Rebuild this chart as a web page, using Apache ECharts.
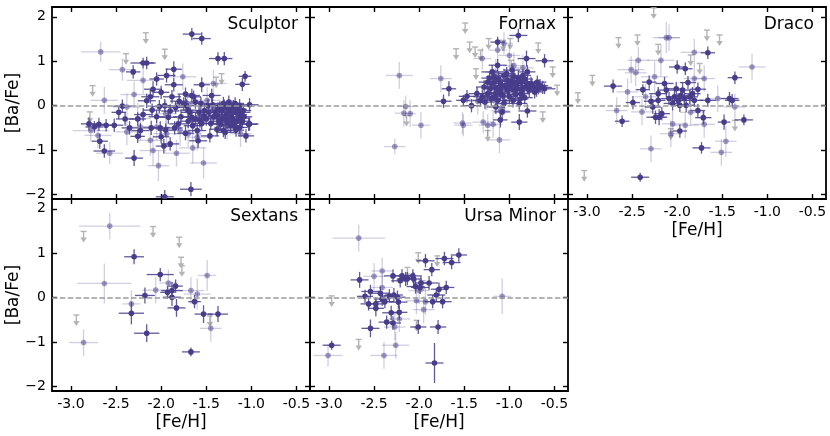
<!DOCTYPE html>
<html>
<head>
<meta charset="utf-8">
<script src="https://cdn.jsdelivr.net/npm/echarts@6/dist/echarts.min.js"></script>
<style>html,body{margin:0;padding:0;background:#fff}#chart{width:830px;height:436px}</style>
</head>
<body>
<div id="chart"></div>
<script>
// tick marks / labels
var FEH_TICKS = [-3.0, -2.5, -2.0, -1.5, -1.0, -0.5];
var BAFE_TICKS = [-2, -1, 0, 1, 2];
var FEH_RANGE = [-3.21, -0.35];
var BAFE_RANGE = [-2.1, 2.22];

// [Fe/H, [Ba/Fe], err Fe/H, err Ba/Fe]
var sculptorDark = [
  [-1.66,1.61,0.10,0.14],[-1.55,1.51,0.10,0.14],[-1.37,1.06,0.10,0.14],[-1.30,1.06,0.09,0.15],
  [-1.07,0.66,0.07,0.12],[-1.10,0.48,0.08,0.15],[-2.16,0.96,0.08,0.14],[-2.20,0.96,0.14,0.12],
  [-2.31,0.76,0.08,0.15],[-1.86,0.82,0.09,0.18],[-1.94,0.68,0.10,0.16],[-2.09,0.37,0.10,0.18],
  [-2.00,0.30,0.09,0.15],[-2.05,0.60,0.08,0.15],[-1.86,0.47,0.10,0.15],[-1.55,0.47,0.09,0.17],
  [-1.66,0.23,0.09,0.15],[-1.44,0.23,0.10,0.15],[-1.73,0.26,0.09,0.15],[-1.64,0.20,0.08,0.14],
  [-2.16,0.11,0.10,0.16],[-2.43,-0.01,0.10,0.15],[-2.47,-0.15,0.08,0.15],[-2.80,-0.41,0.09,0.15],
  [-2.74,-0.48,0.10,0.13],[-2.69,-0.42,0.10,0.15],[-2.61,-0.44,0.09,0.14],[-2.52,-0.44,0.10,0.15],
  [-2.68,-0.80,0.09,0.17],[-2.63,-1.02,0.12,0.15],[-2.30,-1.18,0.10,0.18],[-1.97,-0.91,0.09,0.16],
  [-1.90,-0.86,0.10,0.15],[-1.67,-1.88,0.12,0.16],[-1.96,-2.05,0.10,0.15],[-1.06,-0.68,0.09,0.15],
  [-1.03,-0.42,0.10,0.15],[-2.26,-0.30,0.09,0.15],[-2.23,-0.56,0.10,0.17],[-2.26,-0.69,0.08,0.15],
  [-2.11,-0.50,0.09,0.16],[-2.01,-0.50,0.10,0.15],[-2.00,-0.70,0.09,0.15],[-1.92,-0.26,0.10,0.15],
  [-1.84,-0.04,0.09,0.14],[-1.81,-0.41,0.10,0.15],[-1.73,-0.62,0.09,0.16],[-1.59,-0.79,0.10,0.16],
  [-1.57,-0.34,0.09,0.15],[-1.52,-0.11,0.10,0.15],[-1.46,-0.68,0.10,0.15],[-1.38,-0.53,0.09,0.16],
  [-1.31,-0.56,0.10,0.15],[-1.23,-0.45,0.09,0.15],[-1.18,-0.49,0.10,0.14],[-1.13,-0.49,0.09,0.15],
  [-1.02,-0.41,0.10,0.15],[-1.02,0.02,0.10,0.15],[-1.09,-0.11,0.09,0.15],[-2.02,-0.02,0.10,0.15],
  [-1.96,0.00,0.09,0.15],[-1.75,0.04,0.10,0.15],[-1.70,-0.10,0.09,0.15],[-1.62,0.08,0.10,0.15],
  [-1.53,-0.23,0.09,0.15],[-1.66,-0.26,0.10,0.15],[-1.78,-0.25,0.09,0.15],[-1.60,-0.56,0.10,0.15],
  [-1.35,-0.05,0.10,0.15],[-1.30,0.00,0.09,0.14],[-1.25,-0.10,0.10,0.15],[-1.20,-0.02,0.09,0.15],
  [-1.15,-0.08,0.10,0.15],[-1.28,-0.20,0.09,0.15],[-1.22,-0.25,0.10,0.15],[-1.17,-0.15,0.09,0.14],
  [-1.32,-0.30,0.10,0.15],[-1.40,-0.15,0.09,0.15],[-1.36,-0.35,0.10,0.15],[-1.12,-0.28,0.09,0.15],
  [-1.18,0.05,0.10,0.14],[-1.25,0.08,0.09,0.15],[-1.43,0.02,0.10,0.15],[-1.27,-0.38,0.09,0.15],
  [-1.20,-0.33,0.10,0.15],[-1.14,-0.20,0.09,0.15],[-1.33,-0.12,0.10,0.15],[-1.23,-0.02,0.09,0.15],
  [-1.38,-0.22,0.10,0.15],[-1.10,-0.35,0.09,0.15],[-1.45,-0.40,0.10,0.15],[-1.50,-0.30,0.09,0.15],
  [-1.48,0.00,0.10,0.15],[-2.10,-0.10,0.10,0.15],[-2.05,-0.25,0.09,0.15],[-1.90,-0.12,0.10,0.15],
  [-1.85,-0.50,0.09,0.15],[-1.80,0.10,0.10,0.15],[-1.70,-0.35,0.09,0.15],[-1.65,-0.45,0.10,0.15],
  [-1.58,-0.15,0.09,0.15],[-2.20,-0.20,0.10,0.15],[-2.35,-0.50,0.09,0.15],[-2.40,-0.30,0.10,0.15],
  [-1.95,-0.55,0.09,0.15],[-1.88,0.20,0.10,0.15],[-1.72,0.00,0.09,0.15],[-2.12,0.20,0.10,0.15],
  [-1.26,-0.05,0.09,0.15],[-1.21,-0.15,0.10,0.14],[-1.16,-0.35,0.09,0.15],[-1.29,-0.28,0.10,0.15],
  [-1.34,-0.42,0.09,0.15],[-1.24,-0.30,0.10,0.15],[-1.19,-0.40,0.09,0.15],[-1.11,-0.15,0.10,0.15],
  [-1.08,-0.25,0.09,0.14],[-1.31,0.05,0.10,0.15],[-1.37,-0.08,0.09,0.15],[-1.42,-0.25,0.10,0.15],
  [-1.47,-0.15,0.09,0.15],[-1.55,-0.40,0.10,0.15],[-1.62,-0.30,0.09,0.15],[-1.68,-0.15,0.10,0.15],
  [-1.56,0.05,0.09,0.15],[-1.13,0.00,0.10,0.15],[-1.17,-0.55,0.09,0.15],[-1.29,-0.60,0.10,0.15]
];
var sculptorFaint = [
  [-2.67,1.21,0.22,0.23],[-2.43,0.81,0.15,0.25],[-2.20,0.57,0.18,0.30],[-2.63,0.12,0.15,0.30],
  [-1.76,0.65,0.15,0.30],[-1.53,-1.29,0.15,0.35],[-2.03,-1.35,0.12,0.35],[-1.83,-1.07,0.15,0.30],
  [-2.09,-1.01,0.15,0.35],[-2.78,-0.56,0.20,0.25],[-2.70,-0.67,0.15,0.30],[-2.57,-1.07,0.15,0.25],
  [-2.23,-0.48,0.15,0.30],[-2.26,-0.29,0.15,0.35],[-2.38,-0.59,0.12,0.30],[-1.70,-0.63,0.15,0.30],
  [-1.60,-0.71,0.12,0.30],[-2.12,-0.78,0.15,0.35],[-1.94,-0.63,0.15,0.30],[-1.79,-0.56,0.12,0.35],
  [-1.42,0.50,0.15,0.30],[-1.71,-0.11,0.15,0.30],[-1.95,-0.18,0.12,0.30],[-2.38,-0.03,0.15,0.30],
  [-1.49,0.12,0.15,0.30],[-1.27,-0.48,0.15,0.30],[-1.12,-0.63,0.12,0.30],[-1.57,-0.33,0.15,0.35],
  [-2.05,-0.48,0.15,0.30],[-1.36,-0.29,0.12,0.30],[-1.65,-0.95,0.15,0.35],[-2.30,0.25,0.15,0.30]
];
var sculptorLim = [
  [-2.17,1.64],[-2.39,1.17],[-1.96,1.27],[-2.76,0.45],[-2.79,-0.14],[-1.33,0.72],[-1.39,0.64]
];

var fornaxDark = [
  [-0.90,1.58,0.10,0.15],[-1.13,1.43,0.08,0.12],[-0.81,1.06,0.10,0.18],[-0.61,1.01,0.10,0.15],
  [-1.67,0.38,0.08,0.17],[-1.73,0.10,0.09,0.15],[-1.51,0.12,0.08,0.12],[-1.47,0.21,0.09,0.14],
  [-1.42,0.00,0.10,0.15],[-1.32,0.12,0.09,0.14],[-1.13,0.91,0.10,0.14],[-1.19,0.76,0.12,0.15],
  [-0.89,-0.37,0.09,0.18],[-0.80,-0.12,0.10,0.15],[-1.10,-0.32,0.08,0.17],[-0.89,0.05,0.09,0.14],
  [-0.63,0.41,0.10,0.15],[-0.61,0.38,0.12,0.12],[-0.72,0.42,0.10,0.14],[-0.80,0.76,0.09,0.15],
  [-1.24,0.53,0.10,0.15],[-1.17,0.65,0.09,0.16],[-1.10,0.50,0.10,0.15],[-1.02,0.57,0.11,0.15],
  [-0.95,0.65,0.09,0.16],[-0.87,0.53,0.10,0.15],[-0.80,0.42,0.09,0.15],[-1.02,0.35,0.10,0.15],
  [-1.10,0.27,0.10,0.16],[-1.17,0.20,0.09,0.15],[-1.24,0.27,0.10,0.15],[-0.95,0.35,0.09,0.15],
  [-0.87,0.27,0.10,0.16],[-0.72,0.31,0.09,0.15],[-1.13,0.12,0.10,0.15],[-1.06,0.05,0.09,0.16],
  [-1.21,0.38,0.10,0.15],[-1.28,0.42,0.09,0.15],[-0.98,0.46,0.10,0.15],[-0.91,0.38,0.09,0.16],
  [-1.06,0.68,0.10,0.15],[-1.19,0.50,0.09,0.15],[-1.10,0.38,0.10,0.16],[-0.85,0.68,0.09,0.15],
  [-0.76,0.50,0.10,0.15],[-1.00,0.20,0.09,0.15],[-1.15,-0.03,0.10,0.16],[-1.08,-0.14,0.09,0.15],
  [-1.30,0.20,0.10,0.15],[-1.36,0.27,0.09,0.15],[-0.69,0.53,0.10,0.15],
  [-1.05,0.45,0.10,0.15],[-0.98,0.55,0.09,0.16],[-0.92,0.45,0.10,0.15],[-0.85,0.40,0.09,0.15],
  [-0.78,0.35,0.10,0.16],[-0.75,0.45,0.09,0.15],[-0.68,0.40,0.10,0.15],[-0.66,0.45,0.09,0.15],
  [-0.93,0.25,0.10,0.16],[-0.83,0.18,0.09,0.15],[-1.15,0.40,0.10,0.15],[-1.12,0.60,0.09,0.16],
  [-1.03,0.72,0.10,0.15],[-0.97,0.80,0.09,0.15],[-0.90,0.62,0.10,0.16],[-0.83,0.60,0.09,0.15],
  [-1.20,0.15,0.10,0.15],[-1.27,0.08,0.09,0.16],[-1.14,0.30,0.10,0.15],[-1.07,0.22,0.09,0.15],
  [-0.96,0.12,0.10,0.16],[-0.88,0.15,0.09,0.15],[-1.01,0.40,0.10,0.15],[-0.94,0.52,0.09,0.16],
  [-0.80,0.50,0.10,0.15],[-1.08,0.45,0.09,0.15],[-1.16,0.55,0.10,0.16],[-1.22,0.62,0.09,0.15],
  [-0.70,0.35,0.10,0.15],[-0.86,0.35,0.09,0.16]
];
var fornaxFaint = [
  [-2.22,0.68,0.15,0.30],[-2.27,-0.92,0.12,0.18],[-2.15,-0.02,0.08,0.25],[-2.17,-0.17,0.10,0.30],
  [-2.10,-0.18,0.06,0.30],[-1.98,-0.44,0.10,0.30],[-1.76,0.61,0.12,0.30],[-1.52,-0.39,0.10,0.25],
  [-1.51,-0.44,0.10,0.25],[-1.29,-0.37,0.12,0.25],[-1.24,-0.44,0.10,0.25],[-1.18,-0.42,0.10,0.30],
  [-1.11,-0.77,0.12,0.30],[-1.10,-0.11,0.10,0.30],[-1.00,1.13,0.12,0.25],[-1.30,1.06,0.10,0.25],
  [-1.06,1.40,0.10,0.25],[-1.13,1.25,0.10,0.25],[-1.25,0.20,0.12,0.30],[-1.05,0.10,0.12,0.30],
  [-1.20,0.45,0.12,0.30],[-1.00,0.30,0.12,0.30],[-0.90,0.55,0.12,0.30],[-1.15,0.75,0.12,0.30],
  [-0.85,0.85,0.12,0.30],[-1.35,0.10,0.12,0.30],[-0.95,0.90,0.12,0.30]
];
var fornaxLim = [
  [-1.49,1.86],[-1.44,1.43],[-1.38,1.32],[-1.32,1.25],[-1.23,1.51],[-1.07,1.47],[-0.99,1.51],
  [-1.59,1.28],[-1.37,0.83],[-0.68,1.41],[-0.52,0.87],[-0.47,0.46],[-0.63,-0.14],[-1.24,-0.56],
  [-2.14,-0.22],[-0.98,1.02]
];

var dracoDark = [
  [-2.71,0.44,0.10,0.15],[-2.61,-0.35,0.08,0.13],[-2.49,0.07,0.08,0.15],[-2.41,-1.61,0.10,0.10],
  [-2.38,0.36,0.08,0.12],[-2.31,0.53,0.08,0.15],[-2.29,0.10,0.08,0.15],[-2.27,-0.03,0.09,0.15],
  [-2.21,0.12,0.08,0.14],[-2.24,-0.26,0.10,0.15],[-2.20,-0.26,0.09,0.18],[-2.17,-0.18,0.09,0.15],
  [-2.21,0.27,0.10,0.15],[-2.00,0.87,0.09,0.15],[-1.91,0.83,0.08,0.14],[-1.97,-0.57,0.08,0.15],
  [-1.88,0.52,0.09,0.15],[-1.77,0.37,0.09,0.15],[-1.77,-0.11,0.08,0.15],[-1.71,-0.27,0.09,0.15],
  [-1.73,-0.95,0.10,0.13],[-1.66,1.19,0.08,0.14],[-1.48,-0.37,0.07,0.17],[-1.42,0.16,0.10,0.15],
  [-1.39,0.12,0.08,0.14],[-1.36,0.63,0.08,0.14],[-1.26,-0.32,0.10,0.12],[-2.03,0.20,0.09,0.15],
  [-1.99,0.12,0.10,0.16],[-1.96,0.23,0.09,0.15],[-1.92,0.16,0.10,0.15],[-1.94,0.35,0.09,0.16],
  [-2.01,0.38,0.10,0.15],[-2.09,0.16,0.09,0.15],[-2.05,0.05,0.10,0.16],[-1.97,0.01,0.09,0.15],
  [-1.90,0.01,0.10,0.15],[-1.86,0.20,0.09,0.16],[-1.81,0.12,0.10,0.15],[-1.83,0.27,0.09,0.15],
  [-2.12,0.35,0.10,0.16],[-1.66,0.12,0.09,0.15],[-2.14,0.50,0.10,0.15]
];
var dracoFaint = [
  [-2.12,1.53,0.15,0.35],[-2.09,1.53,0.12,0.30],[-2.43,1.02,0.12,0.30],[-2.51,0.81,0.15,0.30],
  [-2.46,0.74,0.12,0.30],[-2.55,0.31,0.12,0.30],[-2.67,-0.11,0.12,0.30],[-2.39,-0.14,0.12,0.30],
  [-2.29,-0.97,0.12,0.30],[-2.05,-0.41,0.12,0.30],[-1.91,-0.44,0.15,0.30],[-2.07,-0.63,0.12,0.30],
  [-1.81,1.20,0.15,0.30],[-1.70,0.61,0.12,0.30],[-1.81,0.61,0.12,0.30],[-1.51,-1.05,0.12,0.30],
  [-1.46,-0.80,0.12,0.35],[-1.36,-0.03,0.12,0.30],[-1.17,0.87,0.15,0.30],[-1.70,-0.42,0.12,0.30],
  [-1.55,0.16,0.12,0.30],[-2.18,1.02,0.15,0.35],[-2.35,0.20,0.12,0.30],[-2.25,0.65,0.15,0.35],
  [-1.85,-0.15,0.12,0.30]
];
var dracoLim = [
  [-3.10,0.29],[-2.94,0.68],[-2.65,1.53],[-2.44,1.59],[-2.21,1.38],[-2.26,2.20],[-1.67,1.70],
  [-1.53,1.59],[-1.85,1.14],[-1.75,0.95],[-2.07,-0.52],[-1.36,-0.33],[-3.03,-1.46]
];

var sextansDark = [
  [-2.30,0.92,0.11,0.17],[-2.01,0.52,0.15,0.15],[-2.18,0.05,0.11,0.18],[-2.33,-0.35,0.14,0.25],
  [-2.16,-0.80,0.14,0.20],[-1.93,0.12,0.08,0.15],[-1.88,0.16,0.12,0.20],[-1.88,0.01,0.10,0.20],
  [-1.84,0.26,0.08,0.15],[-1.83,-0.23,0.10,0.20],[-1.63,-0.09,0.07,0.15],[-1.67,-1.22,0.10,0.10],
  [-1.53,-0.37,0.10,0.20],[-1.37,-0.37,0.11,0.18]
];
var sextansFaint = [
  [-2.57,1.61,0.34,0.30],[-2.63,0.32,0.30,0.45],[-2.86,-1.01,0.16,0.30],[-2.33,-0.14,0.10,0.30],
  [-2.06,0.17,0.15,0.30],[-1.92,0.33,0.10,0.30],[-1.67,0.16,0.15,0.30],[-1.60,0.08,0.15,0.35],
  [-1.49,0.50,0.10,0.35],[-1.45,-0.69,0.12,0.30]
];
var sextansLim = [
  [-2.86,1.49],[-2.09,1.60],[-1.80,1.36],[-1.78,0.91],[-1.77,0.72],[-2.94,-0.39],[-1.46,-0.41]
];

var ursaMinorDark = [
  [-2.97,-1.07,0.10,0.10],[-2.66,0.40,0.10,0.18],[-2.54,0.14,0.10,0.15],[-2.60,0.03,0.09,0.15],
  [-2.54,-0.69,0.10,0.20],[-2.56,-0.14,0.09,0.15],[-2.48,-0.14,0.10,0.15],[-2.48,-0.24,0.09,0.18],
  [-2.43,0.10,0.10,0.15],[-2.41,-0.03,0.09,0.15],[-2.38,-0.09,0.10,0.15],[-2.36,-0.55,0.09,0.15],
  [-2.31,-0.34,0.10,0.16],[-2.29,-0.57,0.09,0.15],[-2.29,0.49,0.10,0.15],[-2.33,0.04,0.09,0.15],
  [-2.28,0.06,0.10,0.16],[-2.24,0.01,0.09,0.15],[-2.23,-0.10,0.10,0.15],[-2.22,-0.33,0.09,0.16],
  [-2.21,0.38,0.10,0.15],[-2.19,0.49,0.09,0.15],[-2.15,0.42,0.10,0.16],[-2.13,0.43,0.09,0.15],
  [-2.07,0.49,0.10,0.15],[-2.06,0.42,0.09,0.15],[-2.04,0.25,0.10,0.16],[-1.98,0.33,0.09,0.15],
  [-1.99,0.23,0.10,0.15],[-2.01,-0.66,0.09,0.16],[-1.93,0.83,0.10,0.15],[-1.86,0.63,0.09,0.15],
  [-1.89,0.33,0.10,0.16],[-1.85,-0.09,0.09,0.15],[-1.81,0.06,0.10,0.15],[-1.79,-0.66,0.09,0.16],
  [-1.74,-0.09,0.10,0.15],[-1.83,-1.47,0.10,0.45],[-1.78,0.19,0.09,0.15],[-1.72,0.88,0.10,0.15],
  [-1.70,0.23,0.09,0.15],[-1.64,0.79,0.10,0.15],[-1.56,0.96,0.09,0.15]
];
var ursaMinorFaint = [
  [-2.67,1.34,0.29,0.30],[-3.01,-1.30,0.16,0.25],[-2.26,-1.07,0.15,0.30],[-2.39,-1.30,0.15,0.30],
  [-2.41,0.60,0.12,0.30],[-2.50,0.48,0.12,0.30],[-2.41,0.23,0.12,0.30],[-1.08,0.03,0.10,0.40],
  [-1.95,-0.27,0.12,0.30],[-2.27,-0.66,0.12,0.30],[-2.22,-0.48,0.12,0.30],[-2.03,-0.07,0.12,0.30],
  [-2.00,0.16,0.12,0.30],[-1.93,-0.09,0.12,0.30]
];
var ursaMinorLim = [
  [-2.97,0.04],[-2.67,-0.94],[-2.01,1.01],[-1.80,0.94],[-2.03,-0.51],[-2.13,0.68],[-1.96,0.38]
];

var DARK = '#483d8b';
var LIMIT_COLOR = '#b4b4b4';
var LIMIT_LEN = 0.25;
var FONT = 'DejaVu Sans';

var panels = [
  {name: 'Sculptor',   dark: sculptorDark,  faint: sculptorFaint,  lim: sculptorLim,  left: 52,  top: 7,   xLab: false, yLab: true},
  {name: 'Fornax',     dark: fornaxDark,    faint: fornaxFaint,    lim: fornaxLim,    left: 310, top: 7,   xLab: false, yLab: false},
  {name: 'Draco',      dark: dracoDark,     faint: dracoFaint,     lim: dracoLim,     left: 568, top: 7,   xLab: true,  yLab: false},
  {name: 'Sextans',    dark: sextansDark,   faint: sextansFaint,   lim: sextansLim,   left: 52,  top: 199, xLab: true,  yLab: true},
  {name: 'Ursa Minor', dark: ursaMinorDark, faint: ursaMinorFaint, lim: ursaMinorLim, left: 310, top: 199, xLab: true,  yLab: false}
];
var PW = 258, PH = 192;

function errRender(barAlpha, dotAlpha) {
  return function (params, api) {
    var x = api.value(0), y = api.value(1), ex = api.value(2), ey = api.value(3);
    var c = api.coord([x, y]);
    var l = api.coord([x - ex, y]), r = api.coord([x + ex, y]);
    var t = api.coord([x, y + ey]), b = api.coord([x, y - ey]);
    return {
      type: 'group',
      children: [
        {type: 'line', shape: {x1: l[0], y1: l[1], x2: r[0], y2: r[1]}, style: {stroke: DARK, lineWidth: 1.3, opacity: barAlpha}},
        {type: 'line', shape: {x1: t[0], y1: t[1], x2: b[0], y2: b[1]}, style: {stroke: DARK, lineWidth: 1.3, opacity: barAlpha}},
        {type: 'circle', shape: {cx: c[0], cy: c[1], r: 2.8}, style: {fill: DARK, opacity: dotAlpha}}
      ]
    };
  };
}

function limRender(params, api) {
  var x = api.value(0), y = api.value(1);
  var t = api.coord([x, y]), b = api.coord([x, y - LIMIT_LEN]);
  return {
    type: 'group',
    children: [
      {type: 'line', shape: {x1: t[0], y1: t[1], x2: b[0], y2: b[1] - 3}, style: {stroke: LIMIT_COLOR, lineWidth: 1.4}},
      {type: 'line', shape: {x1: t[0] - 3, y1: t[1], x2: t[0] + 3, y2: t[1]}, style: {stroke: LIMIT_COLOR, lineWidth: 1.4}},
      {type: 'polygon', shape: {points: [[b[0] - 3.2, b[1] - 5], [b[0] + 3.2, b[1] - 5], [b[0], b[1]]]}, style: {fill: LIMIT_COLOR}}
    ]
  };
}

function axisBase(onLabel, ticks, fmt) {
  return {
    axisLine: {show: true, onZero: false, lineStyle: {color: '#000', width: 1.8}},
    axisTick: {show: true, inside: true, length: 5, customValues: ticks, lineStyle: {color: '#000', width: 1.4}},
    axisLabel: {show: onLabel, customValues: ticks, formatter: fmt, color: '#000', fontSize: 14, fontFamily: FONT, margin: 6},
    splitLine: {show: false}
  };
}
function fmtX(v) { return v.toFixed(1); }
function fmtY(v) { return String(Math.round(v)).replace('-', '\u2212'); }

var grids = [], xAxes = [], yAxes = [], series = [], graphics = [];
panels.forEach(function (p, i) {
  grids.push({left: p.left, top: p.top, width: PW, height: PH});
  ['bottom', 'top'].forEach(function (pos) {
    var a = axisBase(pos === 'bottom' && p.xLab, FEH_TICKS, fmtX);
    a.gridIndex = i; a.type = 'value'; a.position = pos;
    a.min = FEH_RANGE[0]; a.max = FEH_RANGE[1];
    xAxes.push(a);
  });
  ['left', 'right'].forEach(function (pos) {
    var a = axisBase(pos === 'left' && p.yLab, BAFE_TICKS, fmtY);
    a.gridIndex = i; a.type = 'value'; a.position = pos;
    a.min = BAFE_RANGE[0]; a.max = BAFE_RANGE[1];
    yAxes.push(a);
  });
  var xi = i * 2, yi = i * 2;
  series.push({
    type: 'custom', xAxisIndex: xi, yAxisIndex: yi, clip: true, z: 1,
    renderItem: limRender, data: p.lim, encode: {x: 0, y: 1},
    markLine: {
      silent: true, symbol: 'none', label: {show: false},
      lineStyle: {color: '#9a9a9a', width: 1.5, type: [5.5, 2.4]},
      data: [{yAxis: 0}]
    }
  });
  series.push({
    type: 'custom', xAxisIndex: xi, yAxisIndex: yi, clip: true, z: 2,
    renderItem: errRender(0.25, 0.5), data: p.faint, encode: {x: 0, y: 1}
  });
  series.push({
    type: 'custom', xAxisIndex: xi, yAxisIndex: yi, clip: true, z: 3,
    renderItem: errRender(0.85, 1), data: p.dark, encode: {x: 0, y: 1}
  });
  graphics.push({
    type: 'text', x: p.left + PW - 12, y: p.top + 18,
    style: {text: p.name, textAlign: 'right', textVerticalAlign: 'middle', font: '17px "DejaVu Sans"', fill: '#000'}
  });
  if (p.yLab) {
    graphics.push({
      type: 'text', x: 14, y: p.top + PH / 2, rotation: Math.PI / 2,
      style: {text: '[Ba/Fe]', textAlign: 'center', textVerticalAlign: 'middle', font: '17px "DejaVu Sans"', fill: '#000'}
    });
  }
  if (p.xLab) {
    graphics.push({
      type: 'text', x: p.left + PW / 2, y: p.top + PH + 32,
      style: {text: '[Fe/H]', textAlign: 'center', textVerticalAlign: 'middle', font: '17px "DejaVu Sans"', fill: '#000'}
    });
  }
});

var chart = echarts.init(document.getElementById('chart'));
chart.setOption({
  animation: false,
  backgroundColor: '#fff',
  grid: grids,
  xAxis: xAxes,
  yAxis: yAxes,
  series: series,
  graphic: graphics
});
</script>
</body>
</html>
